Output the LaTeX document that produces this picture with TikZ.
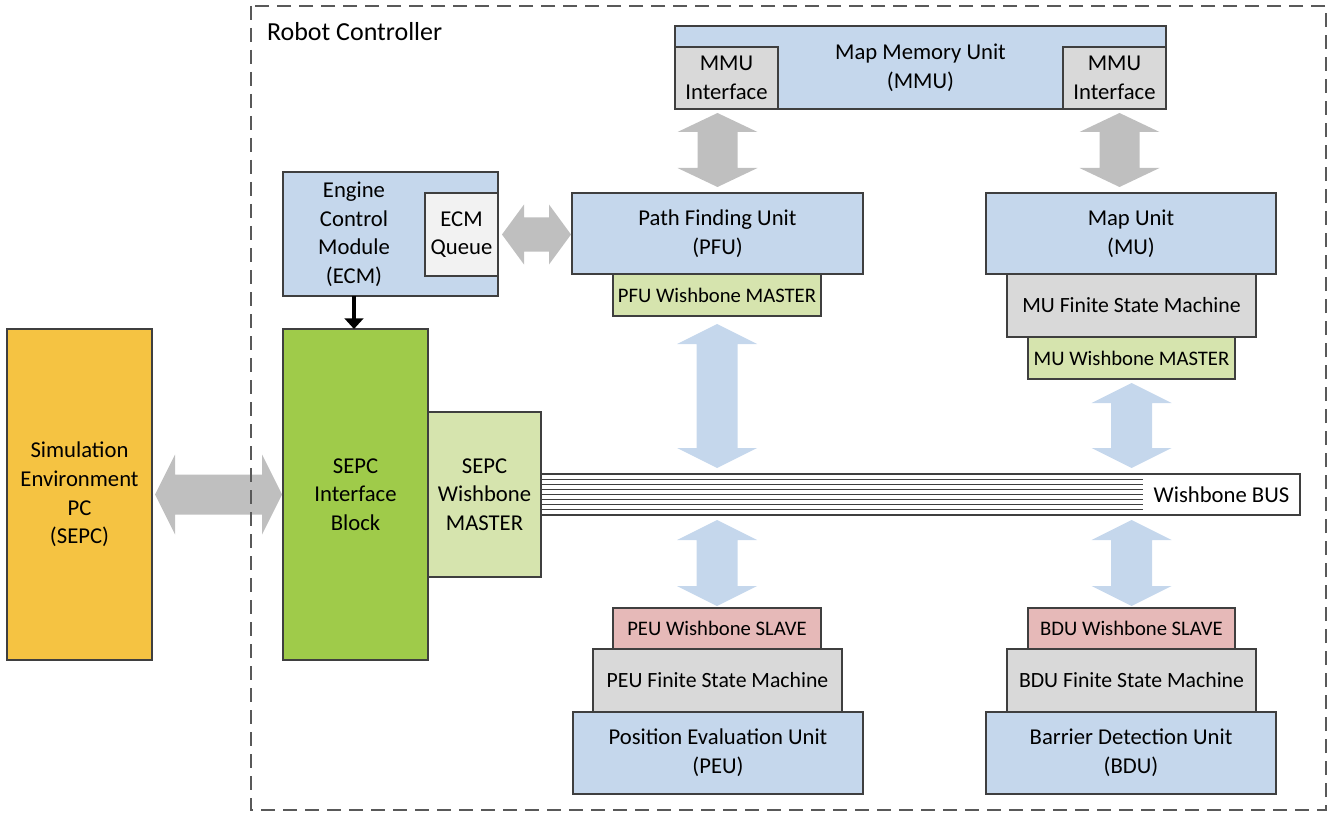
\documentclass[tikz,border=0pt]{standalone}
\usepackage{fontspec}
\setmainfont{Carlito}
\usetikzlibrary{arrows.meta,calc}

\definecolor{edge}{HTML}{3F3F3F}
\definecolor{frame}{HTML}{595959}
\definecolor{sepcorange}{HTML}{F5C342}
\definecolor{sifgreen}{HTML}{9FCB4A}
\definecolor{wbgreen}{HTML}{D6E4AE}
\definecolor{unitblue}{HTML}{C5D7EC}
\definecolor{fsmgray}{HTML}{D9D9D9}
\definecolor{queuegray}{HTML}{F2F2F2}
\definecolor{slavepink}{HTML}{E6B9B8}
\definecolor{arrowgray}{HTML}{BFBFBF}

\tikzset{
  blk/.style={draw=edge, line width=1.1pt, inner sep=0pt, outer sep=0pt,
    align=center, font=\fontsize{17}{21.5}\selectfont},
  smalltext/.style={font=\fontsize{15.5}{19}\selectfont},
  fsmtext/.style={font=\fontsize{16.3}{19}\selectfont},
  unit/.style={blk, fill=unitblue},
  fsm/.style={blk, fill=fsmgray},
  queue/.style={blk, fill=queuegray},
  wbmaster/.style={blk, fill=wbgreen},
  wbslave/.style={blk, fill=slavepink},
  sepcbox/.style={blk, fill=sepcorange},
  sifbox/.style={blk, fill=sifgreen},
  plain/.style={inner sep=0pt, outer sep=0pt, align=center, font=\fontsize{17}{21.5}\selectfont},
  busline/.style={draw=edge, line width=0.9pt},
  grayflow/.style={fill=arrowgray},
  busflow/.style={fill=unitblue},
  ctrl/.style={draw=black, line width=3pt, -{Triangle[width=14pt,length=8pt]}},
  container/.style={draw=frame, line width=1.1pt, dash pattern=on 10.5pt off 6pt}
}

% block given by its corners (x1,y1) and (x2,y2)
\newcommand\blk[7]{%
  \node[#1, anchor=north west, minimum width={(#5-#3)*0.75pt},
        minimum height={(#6-#4)*0.75pt}] (#2) at (#3,#4) {#7};}

% vertical block arrow with heads at both ends: style, top tip, bottom tip,
% half shaft width, half head width, head length
\newcommand\vdarrow[6]{%
  \fill[#1] (#2) -- ($(#2)+(#5,#6)$) -- ($(#2)+(#4,#6)$) -- ($(#3)+(#4,-#6)$)
    -- ($(#3)+(#5,-#6)$) -- (#3) -- ($(#3)+(-#5,-#6)$) -- ($(#3)+(-#4,-#6)$)
    -- ($(#2)+(-#4,#6)$) -- ($(#2)+(-#5,#6)$) -- cycle;}

% horizontal block arrow with heads at both ends: style, left tip, right tip,
% half shaft width, half head width, head length
\newcommand\hdarrow[6]{%
  \fill[#1] (#2) -- ($(#2)+(#6,-#5)$) -- ($(#2)+(#6,-#4)$) -- ($(#3)+(-#6,-#4)$)
    -- ($(#3)+(-#6,-#5)$) -- (#3) -- ($(#3)+(-#6,#5)$) -- ($(#3)+(-#6,#4)$)
    -- ($(#2)+(#6,#4)$) -- ($(#2)+(#6,#5)$) -- cycle;}

\begin{document}
\begin{tikzpicture}[x=0.75pt, y=-0.75pt]
\useasboundingbox (0,0) rectangle (1328,813);

% host PC and its interface
\blk{sepcbox}{sepc}{7}{329}{152}{660}{Simulation\\Environment\\PC\\(SEPC)}
\blk{sifbox}{sif}{283}{329}{428}{660}{SEPC\\Interface\\Block}
\blk{wbmaster}{sepcwb}{428}{412}{541}{577}{SEPC\\Wishbone\\MASTER}

% engine control module
\blk{unit}{ecm}{283}{172}{498}{296}{}
\blk{queue}{ecmq}{425}{193}{498}{276}{ECM\\Queue}
\node[plain] (ecmlabel) at ($(ecm.west)!0.5!(ecmq.west)$) {Engine\\Control\\Module\\(ECM)};

% map memory unit
\blk{unit}{mmu}{675}{26}{1166}{109}{Map Memory Unit\\(MMU)}
\blk{fsm}{mmuil}{675}{47}{778}{109}{MMU\\Interface}
\blk{fsm}{mmuir}{1063}{47}{1166}{109}{MMU\\Interface}

% path finding unit
\blk{unit}{pfu}{572}{193}{863}{274}{Path Finding Unit\\(PFU)}
\blk{wbmaster,smalltext}{pfuwb}{613}{274}{821}{316}{PFU Wishbone MASTER}

% map unit
\blk{unit}{mu}{986}{193}{1276}{274}{Map Unit\\(MU)}
\blk{fsm,fsmtext}{mufsm}{1007}{274}{1256}{337}{MU Finite State Machine}
\blk{wbmaster,smalltext}{muwb}{1028}{337}{1235}{379}{MU Wishbone MASTER}

% position evaluation unit
\blk{wbslave,smalltext}{peus}{613}{608}{821}{649}{PEU Wishbone SLAVE}
\blk{fsm,fsmtext}{peufsm}{593}{649}{842}{712}{PEU Finite State Machine}
\blk{unit}{peu}{573}{712}{863}{794}{Position Evaluation Unit\\(PEU)}

% barrier detection unit
\blk{wbslave,smalltext}{bdus}{1028}{608}{1235}{649}{BDU Wishbone SLAVE}
\blk{fsm,fsmtext}{bdufsm}{1007}{649}{1256}{712}{BDU Finite State Machine}
\blk{unit}{bdu}{986}{712}{1276}{794}{Barrier Detection Unit\\(BDU)}

% wishbone bus
\node[plain, anchor=north west, minimum width={(1300-541)*0.75pt},
      minimum height={(515-474)*0.75pt}] (bus) at (541,474) {};
\node[plain, anchor=north west, minimum width={(1300-1143)*0.75pt},
      minimum height={(515-474)*0.75pt}] (busname) at (1143,474) {Wishbone BUS};
\draw[busline] (bus.north west) -- (bus.north east) -- (bus.south east) -- (bus.south west);
\foreach \i in {1,...,7}
  \draw[busline] ($(bus.north west)!\i/8!(bus.south west)$)
    -- ($(busname.north west)!\i/8!(busname.south west)$);

% end points of the block arrows
\coordinate (pfuA) at ($(pfuwb.south)+(0,8)$);
\coordinate (pfuB) at ($(pfuwb.south |- bus.north)+(0,-6)$);
\coordinate (peuA) at ($(peus.north |- bus.south)+(0,5)$);
\coordinate (peuB) at ($(peus.north)+(0,-2)$);
\coordinate (muA) at ($(muwb.south)+(0,4)$);
\coordinate (muB) at ($(muwb.south |- bus.north)+(0,-6)$);
\coordinate (bduA) at ($(bdus.north |- bus.south)+(0,5)$);
\coordinate (bduB) at ($(bdus.north)+(0,-2)$);
\coordinate (mmuLA) at ($(pfu.north |- mmu.south)+(0,4)$);
\coordinate (mmuLB) at ($(pfu.north)+(0,-6)$);
\coordinate (mmuRA) at ($(mmuir.south)+(5,4)$);
\coordinate (mmuRB) at ($(mmuRA |- mu.north)+(0,-6)$);
\coordinate (ecmA) at ($(ecmq.east)+(4,0)$);
\coordinate (ecmB) at ($(ecmA -| pfu.west)+(-1,0)$);
\coordinate (sepcA) at ($(sepc.east)+(3,0)$);
\coordinate (sepcB) at ($(sif.west)+(-1,0)$);

% bus connections
\vdarrow{busflow}{pfuA}{pfuB}{20.5}{40}{20}
\vdarrow{busflow}{peuA}{peuB}{20.5}{40}{20}
\vdarrow{busflow}{muA}{muB}{20.5}{40}{20}
\vdarrow{busflow}{bduA}{bduB}{20.5}{40}{20}

% memory and queue connections
\vdarrow{grayflow}{mmuLA}{mmuLB}{20}{40}{19}
\vdarrow{grayflow}{mmuRA}{mmuRB}{20}{40}{19}
\hdarrow{grayflow}{ecmA}{ecmB}{17}{30}{22}
\hdarrow{grayflow}{sepcA}{sepcB}{20}{40}{20}

% control path from the ECM to the SEPC interface
\draw[ctrl] (ecm.south -| ecmlabel) -- (sif.north -| ecmlabel);

% robot controller boundary
\draw[container] (251,6) rectangle (1326,810);
\node[plain, anchor=base west, font=\fontsize{19.5}{23}\selectfont] (rclabel) at (267,41) {Robot Controller};
\end{tikzpicture}
\end{document}
